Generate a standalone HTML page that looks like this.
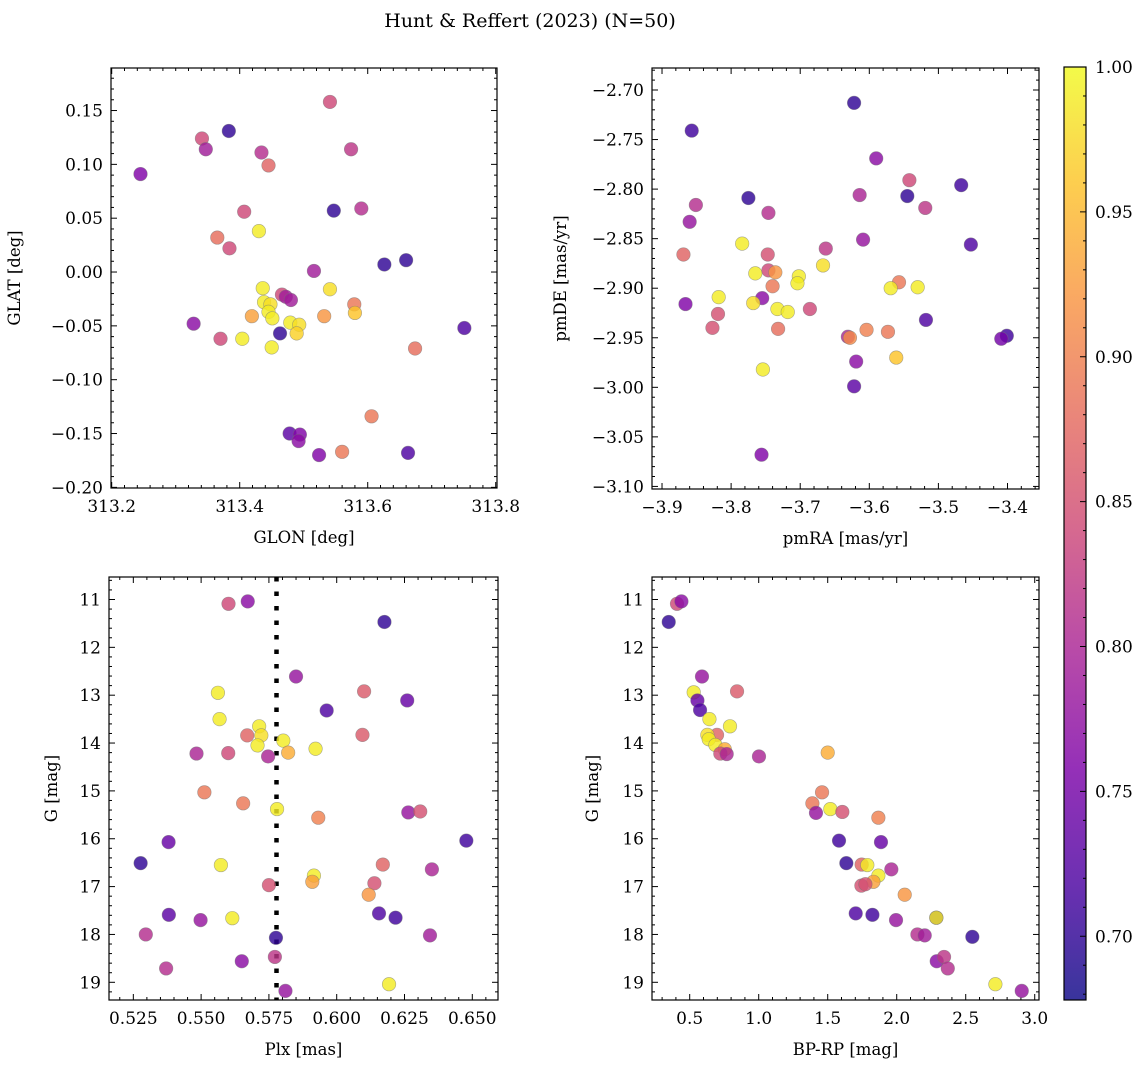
<!DOCTYPE html>
<html><head><meta charset="utf-8"><style>
body{margin:0;background:#fff}
svg text{font-family:"DejaVu Serif","Liberation Serif",serif;fill:#000}
</style></head><body>
<svg id="fig" width="1148" height="1067" viewBox="0 0 1148 1067" xmlns="http://www.w3.org/2000/svg">
<defs>
<linearGradient id="plasma" x1="0" y1="1" x2="0" y2="0">
<stop offset="0" stop-color="#0d0887"/><stop offset="0.125" stop-color="#4c02a1"/><stop offset="0.25" stop-color="#7e03a8"/><stop offset="0.375" stop-color="#a92395"/><stop offset="0.5" stop-color="#cc4778"/><stop offset="0.625" stop-color="#e56b5d"/><stop offset="0.75" stop-color="#f89441"/><stop offset="0.875" stop-color="#fdc328"/><stop offset="1" stop-color="#f0f921"/>
</linearGradient>
</defs>
<text x="530" y="27" text-anchor="middle" font-size="19">Hunt &amp; Reffert (2023) (N=50)</text>
</svg>
<script>
// ---- data ----
const glon=[313.245,313.341,313.347,313.383,313.434,313.445,313.541,313.574,313.407,313.365,313.384,313.430,313.547,313.590,313.516,313.626,313.660,313.541,313.436,313.466,313.472,313.480,313.438,313.448,313.445,313.451,313.419,313.532,313.579,313.580,313.479,313.493,313.489,313.463,313.328,313.370,313.404,313.450,313.751,313.674,313.606,313.560,313.478,313.494,313.492,313.524,313.663];
const glat=[0.091,0.124,0.114,0.131,0.111,0.099,0.158,0.114,0.056,0.032,0.022,0.038,0.057,0.059,0.001,0.007,0.011,-0.016,-0.015,-0.021,-0.023,-0.026,-0.028,-0.030,-0.037,-0.043,-0.041,-0.041,-0.030,-0.038,-0.047,-0.049,-0.057,-0.057,-0.048,-0.062,-0.062,-0.070,-0.052,-0.071,-0.134,-0.167,-0.150,-0.151,-0.157,-0.170,-0.168];
const probP1=[0.76,0.84,0.79,0.70,0.81,0.87,0.84,0.82,0.84,0.88,0.84,0.99,0.70,0.81,0.79,0.70,0.70,0.98,0.99,0.84,0.79,0.79,0.99,0.98,0.99,0.99,0.93,0.92,0.89,0.96,0.99,0.98,0.97,0.70,0.77,0.84,0.99,0.99,0.72,0.88,0.89,0.89,0.73,0.76,0.77,0.76,0.72];

const pmra=[-3.622,-3.857,-3.590,-3.542,-3.467,-3.545,-3.614,-3.519,-3.851,-3.860,-3.775,-3.746,-3.609,-3.453,-3.784,-3.663,-3.869,-3.747,-3.667,-3.765,-3.746,-3.736,-3.702,-3.704,-3.740,-3.557,-3.569,-3.530,-3.818,-3.755,-3.768,-3.866,-3.733,-3.718,-3.686,-3.819,-3.827,-3.732,-3.518,-3.631,-3.628,-3.604,-3.573,-3.401,-3.409,-3.561,-3.619,-3.754,-3.622,-3.756];
const pmde=[-2.713,-2.741,-2.769,-2.791,-2.796,-2.807,-2.806,-2.819,-2.816,-2.833,-2.809,-2.824,-2.851,-2.856,-2.855,-2.860,-2.866,-2.866,-2.877,-2.885,-2.882,-2.884,-2.888,-2.895,-2.898,-2.894,-2.900,-2.899,-2.909,-2.910,-2.915,-2.916,-2.921,-2.924,-2.921,-2.926,-2.940,-2.941,-2.932,-2.949,-2.950,-2.942,-2.944,-2.948,-2.951,-2.970,-2.974,-2.982,-2.999,-3.068];
const probP2=[0.70,0.71,0.77,0.84,0.71,0.70,0.80,0.82,0.81,0.78,0.70,0.81,0.78,0.72,0.99,0.82,0.87,0.85,0.98,0.99,0.84,0.92,0.99,0.99,0.89,0.89,0.99,0.99,0.99,0.77,0.98,0.76,0.99,0.99,0.84,0.85,0.85,0.88,0.72,0.80,0.91,0.90,0.89,0.71,0.75,0.96,0.77,0.99,0.73,0.76];

const plx=[0.5601,0.5672,0.6176,0.5850,0.5562,0.6101,0.6260,0.5963,0.5568,0.5714,0.5722,0.5670,0.6095,0.5708,0.5803,0.5821,0.5922,0.5483,0.5600,0.5747,0.5512,0.5655,0.5780,0.5932,0.6264,0.6308,0.5380,0.6478,0.5277,0.5573,0.6170,0.6351,0.5916,0.5910,0.5750,0.6139,0.6118,0.5381,0.5498,0.5615,0.6156,0.6217,0.5296,0.6344,0.5776,0.5650,0.5772,0.5371,0.6193,0.5811];
const gP3=[11.09,11.04,11.47,12.61,12.95,12.92,13.11,13.32,13.50,13.65,13.84,13.84,13.83,14.05,13.95,14.20,14.12,14.22,14.21,14.28,15.03,15.26,15.38,15.56,15.45,15.43,16.07,16.04,16.51,16.55,16.54,16.64,16.77,16.90,16.97,16.93,17.17,17.59,17.70,17.66,17.56,17.65,18.00,18.02,18.07,18.56,18.47,18.71,19.04,19.18];
const probP3=[0.84,0.77,0.70,0.78,0.99,0.86,0.74,0.72,0.99,0.99,0.98,0.87,0.86,0.99,0.99,0.94,0.99,0.80,0.84,0.80,0.89,0.89,0.99,0.90,0.78,0.85,0.74,0.71,0.70,0.99,0.87,0.80,0.99,0.93,0.85,0.85,0.92,0.73,0.78,0.99,0.72,0.71,0.81,0.79,0.70,0.77,0.82,0.81,0.99,0.78];
const plxRef=0.5778;

const bprp=[0.348,0.408,0.440,0.589,0.529,0.843,0.556,0.575,0.643,0.792,0.698,0.628,0.638,0.686,0.754,0.722,0.768,1.002,1.500,1.459,1.389,1.519,1.415,1.606,1.867,1.582,1.886,1.635,1.746,1.787,1.961,1.867,1.831,1.744,1.773,2.058,1.703,1.824,1.995,2.287,2.287,2.150,2.203,2.548,2.290,2.343,2.370,2.715,2.906];
const gP4=[11.47,11.09,11.04,12.61,12.94,12.92,13.11,13.31,13.50,13.65,13.83,13.83,13.92,14.04,14.13,14.22,14.23,14.28,14.20,15.03,15.26,15.38,15.46,15.44,15.56,16.04,16.07,16.51,16.54,16.55,16.64,16.77,16.90,16.98,16.95,17.17,17.56,17.59,17.70,17.65,17.65,18.00,18.02,18.05,18.56,18.47,18.71,19.04,19.18];
const probP4=[0.70,0.84,0.77,0.78,0.99,0.86,0.74,0.72,0.99,0.99,0.87,0.98,0.99,0.99,0.94,0.84,0.80,0.80,0.94,0.89,0.89,0.99,0.78,0.85,0.90,0.71,0.74,0.70,0.87,0.99,0.80,0.99,0.93,0.85,0.85,0.92,0.72,0.71,0.78,0.71,0.99,0.81,0.79,0.70,0.77,0.82,0.81,0.99,0.78];

const cbTicks=[0.70,0.75,0.80,0.85,0.90,0.95,1.00];
const vmin=0.678, vmax=1.0;

// ---- helpers ----
const NS='http://www.w3.org/2000/svg';
const svg=document.getElementById('fig');
function mk(tag,attrs,parent){const e=document.createElementNS(NS,tag);for(const k in attrs)e.setAttribute(k,attrs[k]);(parent||svg).appendChild(e);return e;}
const stops=[[0,[13,8,135]],[0.125,[76,2,161]],[0.25,[126,3,168]],[0.375,[169,35,149]],[0.5,[204,71,120]],[0.625,[229,107,93]],[0.75,[248,148,65]],[0.875,[253,195,40]],[1,[240,249,33]]];
function plasma(v){let t=(v-vmin)/(vmax-vmin);t=Math.max(0,Math.min(1,t));for(let i=1;i<stops.length;i++){if(t<=stops[i][0]){const a=stops[i-1],b=stops[i];const f=(t-a[0])/(b[0]-a[0]);const c=a[1].map((x,j)=>Math.round(x+(b[1][j]-x)*f));return `rgb(${c[0]},${c[1]},${c[2]})`;}}return 'rgb(240,249,33)';}
function fmt(v,d){return (v<0?'\u2212':'')+Math.abs(v).toFixed(d);}
const TF=17, LF=16.5;

function panel(cfg){
  const {name,x0,x1,y0,y1,xd,yd,xt,yt,xdec,ydec,xminor,yminor,xlabel,ylabel,ylabX,invertY}=cfg;
  const g=mk('g',{});
  
  
  const sx=v=>x0+(v-xd[0])/(xd[1]-xd[0])*(x1-x0);
  const sy=invertY? (v=>y0+(v-yd[0])/(yd[1]-yd[0])*(y1-y0)) : (v=>y1-(v-yd[0])/(yd[1]-yd[0])*(y1-y0));
  cfg.sx=sx;cfg.sy=sy;cfg.g=g;
  const tg=mk('g',{stroke:'#000','stroke-width':1},g);
  
  
  const xs=xt[1]-xt[0], ys=yt[1]-yt[0];
  for(let v=xt[0]-xs;v<=xd[1]+1e-9;v+=xs/xminor){const p=sx(v);if(p<x0-0.5||p>x1+0.5)continue;const maj=Math.abs(((v-xt[0])/xs)-Math.round((v-xt[0])/xs))<1e-6;const L=maj?6:3;mk('line',{x1:p,x2:p,y1:y1,y2:y1-L},tg);mk('line',{x1:p,x2:p,y1:y0,y2:y0+L},tg);}
  for(let v=yt[0]-ys;v<=Math.max(yd[0],yd[1])+1e-9;v+=ys/yminor){const p=sy(v);if(p<y0-0.5||p>y1+0.5)continue;const maj=Math.abs(((v-yt[0])/ys)-Math.round((v-yt[0])/ys))<1e-6;const L=maj?6:3;mk('line',{y1:p,y2:p,x1:x0,x2:x0+L},tg);mk('line',{y1:p,y2:p,x1:x1,x2:x1-L},tg);}
  xt.forEach(v=>{const t=mk('text',{x:sx(v),y:y1+24,'text-anchor':'middle','font-size':TF},g);t.textContent=fmt(v,xdec);});
  yt.forEach(v=>{const t=mk('text',{x:x0-8,y:sy(v)+6,'text-anchor':'end','font-size':TF},g);t.textContent=fmt(v,ydec);});
  const xl=mk('text',{x:(x0+x1)/2,y:y1+55,'text-anchor':'middle','font-size':LF},g);xl.textContent=xlabel;
  
  
  const yl=mk('text',{x:ylabX,y:(y0+y1)/2,'text-anchor':'middle','font-size':LF,transform:`rotate(-90 ${ylabX} ${(y0+y1)/2})`},g);yl.textContent=ylabel;
  
  
  return cfg;
}
function scatter(cfg,xs,ys,ps){
  const pg=mk('g',{},cfg.g);
  
  
  for(let i=0;i<xs.length;i++){
    const c=mk('circle',{cx:cfg.sx(xs[i]),cy:cfg.sy(ys[i]),r:6.8,fill:plasma(ps[i]),'fill-opacity':0.82,stroke:'#777','stroke-opacity':0.6,'stroke-width':0.6},pg);
    
    
  }
}
function frame(cfg){const r=mk('rect',{x:cfg.x0,y:cfg.y0,width:cfg.x1-cfg.x0,height:cfg.y1-cfg.y0,fill:'none',stroke:'#000','stroke-width':1.2},cfg.g);}

const p1=panel({name:'panel-glon-glat',x0:111,x1:497,y0:68,y1:488,xd:[313.1989,313.802],yd:[-0.2006,0.1895],xt:[313.2,313.4,313.6,313.8],yt:[-0.20,-0.15,-0.10,-0.05,0.00,0.05,0.10,0.15],xdec:1,ydec:2,xminor:10,yminor:5,xlabel:'GLON [deg]',ylabel:'GLAT [deg]',ylabX:20});
scatter(p1,glon,glat,probP1);frame(p1);
const p2=panel({name:'panel-pm',x0:652,x1:1039,y0:68,y1:489,xd:[-3.9145,-3.3544],yd:[-3.1026,-2.6778],xt:[-3.9,-3.8,-3.7,-3.6,-3.5,-3.4],yt:[-3.10,-3.05,-3.00,-2.95,-2.90,-2.85,-2.80,-2.75,-2.70],xdec:1,ydec:2,xminor:5,yminor:5,xlabel:'pmRA [mas/yr]',ylabel:'pmDE [mas/yr]',ylabX:566});
scatter(p2,pmra,pmde,probP2);frame(p2);
const p3=panel({name:'panel-plx-g',x0:109,x1:498,y0:577,y1:1000,xd:[0.51603,0.65948],yd:[10.53,19.37],xt:[0.525,0.550,0.575,0.600,0.625,0.650],yt:[11,12,13,14,15,16,17,18,19],xdec:3,ydec:0,xminor:5,yminor:5,xlabel:'Plx [mas]',ylabel:'G [mag]',ylabX:57,invertY:true});
const rl=mk('line',{x1:p3.sx(plxRef),x2:p3.sx(plxRef),y1:577,y2:1000,stroke:'#000','stroke-width':4.5,'stroke-dasharray':'4.5 10'},p3.g);


scatter(p3,plx,gP3,probP3);frame(p3);
const p4=panel({name:'panel-cmd',x0:652,x1:1039,y0:577,y1:1000,xd:[0.2268,3.031],yd:[10.53,19.37],xt:[0.5,1.0,1.5,2.0,2.5,3.0],yt:[11,12,13,14,15,16,17,18,19],xdec:1,ydec:0,xminor:5,yminor:5,xlabel:'BP-RP [mag]',ylabel:'G [mag]',ylabX:598,invertY:true});
scatter(p4,bprp,gP4,probP4);frame(p4);

// colorbar
const cb=mk('g',{});


const cbx0=1064,cbx1=1086,cby0=67,cby1=1000;
mk('rect',{x:cbx0,y:cby0,width:cbx1-cbx0,height:cby1-cby0,fill:'url(#plasma)','fill-opacity':0.82},cb);
mk('rect',{x:cbx0,y:cby0,width:cbx1-cbx0,height:cby1-cby0,fill:'none',stroke:'#000','stroke-width':1.2},cb);
const cy=v=>cby1-(v-vmin)/(vmax-vmin)*(cby1-cby0);
for(let v=0.68;v<=1.0001;v+=0.01){const p=cy(v);const maj=Math.abs(v*20-Math.round(v*20))<1e-6;mk('line',{x1:cbx1,x2:cbx1-(maj?6:3),y1:p,y2:p,stroke:'#000'},cb);}
cbTicks.forEach(v=>{const t=mk('text',{x:cbx1+9,y:cy(v)+6,'font-size':TF},cb);t.textContent=v.toFixed(2);});
</script>
</body></html>
